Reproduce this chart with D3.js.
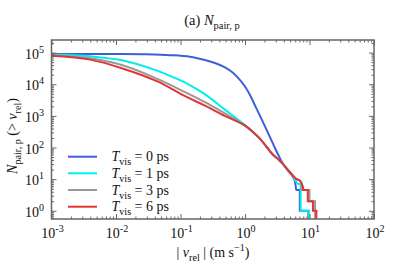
<!DOCTYPE html>
<html>
<head>
<meta charset="UTF-8">
<style>
  body { margin: 0; background: #fff; }
  svg { display: block; }
  text { white-space: pre; fill: #111; font-family: "Liberation Serif", "DejaVu Serif", serif; }
  .tick line { stroke: #666; stroke-width: 1; }
</style>
</head>
<body>
<svg width="399" height="278"></svg>
<script src="https://d3js.org/d3.v7.min.js"></script>
<script>
  // ticks
  const xMajor = [1e-3, 1e-2, 1e-1, 1, 10, 100];
  const xExp = ["-3", "-2", "-1", "0", "1", "2"];
  const yMajor = [1, 10, 100, 1e3, 1e4, 1e5];
  const yExp = ["0", "1", "2", "3", "4", "5"];

  // series labels
  const tvis = ["0", "1", "3", "6"];
  const colors = ["#3f5fd8", "#00eeee", "#999999", "#e23434"];

  // cumulative number of pairs N(> v)
  const blueSmooth = [[0.001,9.1e4],[0.01,9.0e4],[0.03,8.8e4],[0.07,8.3e4],[0.14,7.4e4],[0.24,5.8e4],[0.35,4.6e4],[0.49,3.4e4],[0.65,2.3e4],[0.8,1.5e4],[1.0,8.5e3],[1.2,4.5e3],[1.45,2.0e3],[1.8,8.0e2],[2.4,2.3e2],[3.0,8.5e1],[3.5,4.5e1],[3.9,3.0e1],[4.5,2.0e1],[5.2,1.4e1],[5.8,10],[6.2,4.5]];
  const blueSteps = [[6.2,4.5],[7.07,1],[9.6,0.3]];

  const mergedTail = [[1.3,3.2e2],[1.7,1.9e2],[2.2,1.0e2],[2.7,6.0e1],[3.3,4.2e1],[3.9,3.0e1],[4.6,2.0e1],[5.5,1.3e1]];

  const cyanSmooth = [[0.001,8.7e4],[0.002,8.3e4],[0.004,7.6e4],[0.013,5.6e4],[0.043,2.7e4],[0.07,1.8e4],[0.12,1.1e4],[0.24,4.8e3],[0.485,1.6e3],[0.99,5.2e2]].concat(mergedTail, [[6.0,9],[6.6,7]]);
  const cyanSteps = [[6.6,7],[7.3,1],[9.8,0.3]];

  const graySmooth = [[0.001,8.3e4],[0.004,6.6e4],[0.013,3.9e4],[0.043,1.5e4],[0.12,5.5e3],[0.24,2.7e3],[0.485,1.2e3],[0.95,5.3e2]].concat(mergedTail, [[6.3,1.0e1],[7.07,9.1],[7.6,7]]);
  const graySteps = [[7.6,4.5],[10.0,2],[12.2,0.3]];

  const redSmooth = [[0.001,8.0e4],[0.004,6.0e4],[0.013,3.1e4],[0.043,1.25e4],[0.12,4.1e3],[0.24,2.1e3],[0.485,1.0e3],[0.99,5.0e2]].concat(mergedTail, [[6.3,1.0e1],[7.07,9.1],[7.96,5.6]]);
  const redSteps = [[7.96,4.5],[9.4,2],[11.3,1],[12.8,0.3]];

  const series = [
    { smooth: blueSmooth, steps: blueSteps },
    { smooth: cyanSmooth, steps: cyanSteps },
    { smooth: graySmooth, steps: graySteps },
    { smooth: redSmooth, steps: redSteps }
  ];

  const L = 51.5, R = 374, T = 40, B = 219;
  const svg = d3.select("svg");

  const x = d3.scaleLog().domain([1e-3, 1e2]).range([L, R]);
  const y = d3.scaleLog().domain([0.55, 2.5e5]).range([B, T]);

  // minor tick values on log axes
  const xMinor = [];
  for (let e = -3; e < 2; e++) for (let m = 2; m <= 9; m++) xMinor.push(m * Math.pow(10, e));
  const yMinor = [];
  for (let e = -1; e <= 5; e++) for (let m = 2; m <= 9; m++) {
    const v = m * Math.pow(10, e);
    if (v > 0.55 && v < 2.5e5) yMinor.push(v);
  }

  // rich text with italic / sub / sup parts
  function rich(sel, parts, size) {
    let shift = 0;
    parts.forEach(p => {
      const s = p.sub ? size * 0.3 : p.sup ? -size * 0.42 : 0;
      const ts = sel.append("tspan").text(p.t)
        .attr("dy", s - shift)
        .attr("font-size", (p.sub || p.sup) ? size * 0.72 : size);
      if (p.i) ts.attr("font-style", "italic");
      shift = s;
    });
    return sel;
  }

  // curves
  svg.append("clipPath").attr("id", "clip")
    .append("rect").attr("x", L).attr("y", T).attr("width", R - L).attr("height", B - T);
  const plot = svg.append("g").attr("clip-path", "url(#clip)");

  const smoothLine = d3.line().x(d => x(d[0])).y(d => y(d[1])).curve(d3.curveCatmullRom.alpha(0.5));
  const stepLine = d3.line().x(d => x(d[0])).y(d => y(d[1])).curve(d3.curveStepAfter);

  series.forEach((s, i) => {
    plot.append("path").attr("d", smoothLine(s.smooth))
      .attr("fill", "none").attr("stroke", colors[i]).attr("stroke-width", 2);
    plot.append("path").attr("d", stepLine([s.smooth[s.smooth.length - 1]].concat(s.steps)))
      .attr("fill", "none").attr("stroke", colors[i]).attr("stroke-width", 2);
  });

  // axes (ticks inside, mirrored)
  function axisGroup(axis, tx, ty) {
    const g = svg.append("g").attr("transform", `translate(${tx},${ty})`).call(axis);
    g.select(".domain").remove();
    return g;
  }
  axisGroup(d3.axisBottom(x).tickValues(xMajor).tickSize(-5).tickFormat(""), 0, B);
  axisGroup(d3.axisBottom(x).tickValues(xMinor).tickSize(-2.5).tickFormat(""), 0, B);
  axisGroup(d3.axisTop(x).tickValues(xMajor).tickSize(-5).tickFormat(""), 0, T);
  axisGroup(d3.axisTop(x).tickValues(xMinor).tickSize(-2.5).tickFormat(""), 0, T);
  axisGroup(d3.axisLeft(y).tickValues(yMajor).tickSize(-5).tickFormat(""), L, 0);
  axisGroup(d3.axisLeft(y).tickValues(yMinor).tickSize(-2.5).tickFormat(""), L, 0);
  axisGroup(d3.axisRight(y).tickValues(yMajor).tickSize(-5).tickFormat(""), R, 0);
  axisGroup(d3.axisRight(y).tickValues(yMinor).tickSize(-2.5).tickFormat(""), R, 0);

  svg.append("rect").attr("x", L).attr("y", T).attr("width", R - L).attr("height", B - T)
    .attr("fill", "none").attr("stroke", "#666").attr("stroke-width", 1.5);

  // tick labels
  xMajor.forEach((v, i) => {
    rich(svg.append("text").attr("x", x(v) + 1).attr("y", 238).attr("text-anchor", "middle"),
      [{ t: "10" }, { t: xExp[i], sup: true }], 14);
  });
  yMajor.forEach((v, i) => {
    rich(svg.append("text").attr("x", 44).attr("y", y(v) + 6).attr("text-anchor", "end"),
      [{ t: "10" }, { t: yExp[i], sup: true }], 14);
  });

  // title
  rich(svg.append("text").attr("x", 212).attr("y", 25).attr("text-anchor", "middle"),
    [{ t: "(a) " }, { t: "N", i: true }, { t: "pair, p", sub: true }], 14.5);

  // axis labels
  rich(svg.append("text").attr("x", 213).attr("y", 257).attr("text-anchor", "middle"),
    [{ t: "| " }, { t: "v", i: true }, { t: "rel", sub: true }, { t: " | (m s" }, { t: "−1", sup: true }, { t: ")" }], 14);
  rich(svg.append("text").attr("transform", "translate(17,136) rotate(-90)").attr("text-anchor", "middle"),
    [{ t: "N", i: true }, { t: "pair, p", sub: true }, { t: " (> " }, { t: "v", i: true }, { t: "rel", sub: true }, { t: ")" }], 14);

  // legend
  const legY = [156.7, 173.3, 190, 206.7];
  tvis.forEach((t, i) => {
    svg.append("line").attr("x1", 68).attr("x2", 97).attr("y1", legY[i]).attr("y2", legY[i])
      .attr("stroke", colors[i]).attr("stroke-width", 2);
    rich(svg.append("text").attr("x", 111.5).attr("y", legY[i] + 4.5),
      [{ t: "T", i: true }, { t: "vis", sub: true }, { t: " = " + t + " ps" }], 14);
  });
</script>
</body>
</html>
